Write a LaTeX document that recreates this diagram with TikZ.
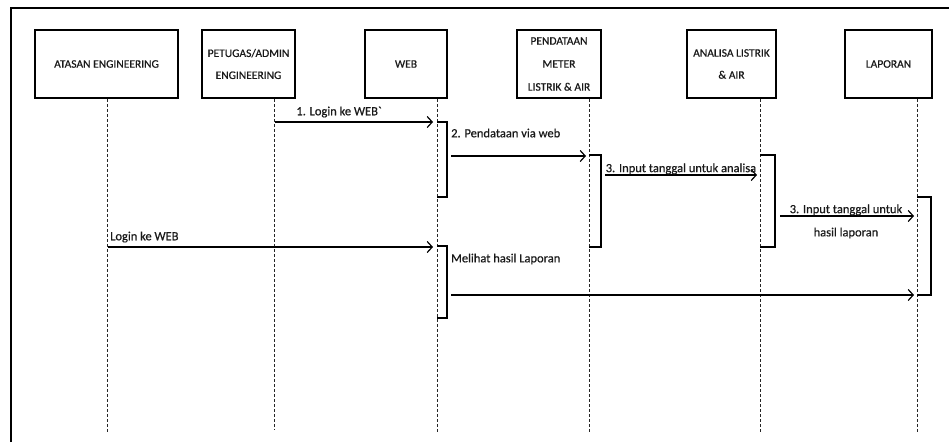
\documentclass[tikz,border=0pt]{standalone}
\usepackage{fontspec}
\setmainfont{Carlito}[FakeBold=0.6]
\usetikzlibrary{arrows.meta}
\begin{document}
\begin{tikzpicture}[x=1pt,y=-1pt,
  actor/.style={draw,line width=1.8pt,inner sep=0pt,align=center,text=black!90,font=\fontsize{11.5}{22}\selectfont},
  life/.style={dash pattern=on 3pt off 2pt,line width=0.8pt,black!85},
  msg/.style={line width=1.2pt,-{Straight Barb[length=5pt,width=11pt,line width=1.2pt]}},
  act/.style={line width=1.2pt},
  lbl/.style={inner sep=0pt,text=black!90,font=\fontsize{12.5}{15}\selectfont}]
\useasboundingbox (0,0) rectangle (949,442);
% frame
\draw[line width=1.8pt] (11,442) -- (11,8) -- (949,8);
% actors
\node[actor,minimum width=143pt,minimum height=68pt] (b1) at (106.5,64) {ATASAN ENGINEERING};
\node[actor,minimum width=93pt,minimum height=68pt] (b2) at (248.5,64) {PETUGAS/ADMIN\\ENGINEERING};
\node[actor,minimum width=82pt,minimum height=68pt] (b3) at (406,64) {WEB};
\node[actor,minimum width=84pt,minimum height=68pt,font=\fontsize{11.5}{23}\selectfont] (b4) at (559,64) {PENDATAAN\\METER\\LISTRIK \& AIR};
\node[actor,minimum width=89pt,minimum height=68pt] (b5) at (731.5,64) {ANALISA LISTRIK\\\& AIR};
\node[actor,minimum width=87pt,minimum height=68pt] (b6) at (888.5,64) {LAPORAN};
% lifeline ends
\coordinate (e1) at (107,432);
\coordinate (e2) at (274,430);
\coordinate (e3) at (437,432);
\coordinate (e4) at (589,432);
\coordinate (e5) at (760,432);
\coordinate (e6) at (917,432);
\draw[life] (e1 |- b1.south) -- (e1);
\draw[life] (e2 |- b2.south) -- (e2);
\draw[life] (e3 |- b3.south) -- (e3);
\draw[life] (e4 |- b4.south) -- (e4);
\draw[life] (e5 |- b5.south) -- (e5);
\draw[life] (e6 |- b6.south) -- (e6);
% activations
\draw[act] (437,122) -- (447,122) -- (447,197) -- (437,197);
\draw[act] (589,155) -- (601,155) -- (601,247) -- (589,247);
\draw[act] (760,155) -- (775,155) -- (775,247) -- (760,247);
\draw[act] (917,197) -- (931,197) -- (931,295) -- (917,295);
\draw[act] (437,246) -- (447,246) -- (447,318) -- (437,318);
% message end points
\coordinate (m1s) at (275,122); \coordinate (m1e) at (433,122);
\coordinate (m2s) at (451,156); \coordinate (m2e) at (586,156);
\coordinate (m3s) at (605,175); \coordinate (m3e) at (757,175);
\coordinate (m4s) at (780,216); \coordinate (m4e) at (914,216);
\coordinate (m5s) at (108,247); \coordinate (m5e) at (433,247);
\coordinate (m6s) at (451,295); \coordinate (m6e) at (914,295);
\draw[msg] (m1s) -- (m1e);
\draw[msg] (m2s) -- (m2e);
\draw[msg] (m3s) -- (m3e);
\draw[msg] (m4s) -- (m4e);
\draw[msg] (m5s) -- (m5e);
\draw[msg] (m6s) -- (m6e);
% labels
\node[lbl] (t1) at (339,112) {1. Login ke WEB\textasciigrave};
\node[lbl,anchor=west] (t2) at (451,133) {2. Pendataan via web};
\node[lbl,anchor=south] (t3) at (681,174.5) {3. Input tanggal untuk analisa};
\node[lbl,anchor=south] (t4) at (846,215.5) {3. Input tanggal untuk};
\node[lbl] (t4b) at (846,233) {hasil laporan};
\node[lbl,anchor=west] (t5) at (110,237) {Login ke WEB};
\node[lbl,anchor=west] (t6) at (451,259) {Melihat hasil Laporan};
\end{tikzpicture}
\end{document}
